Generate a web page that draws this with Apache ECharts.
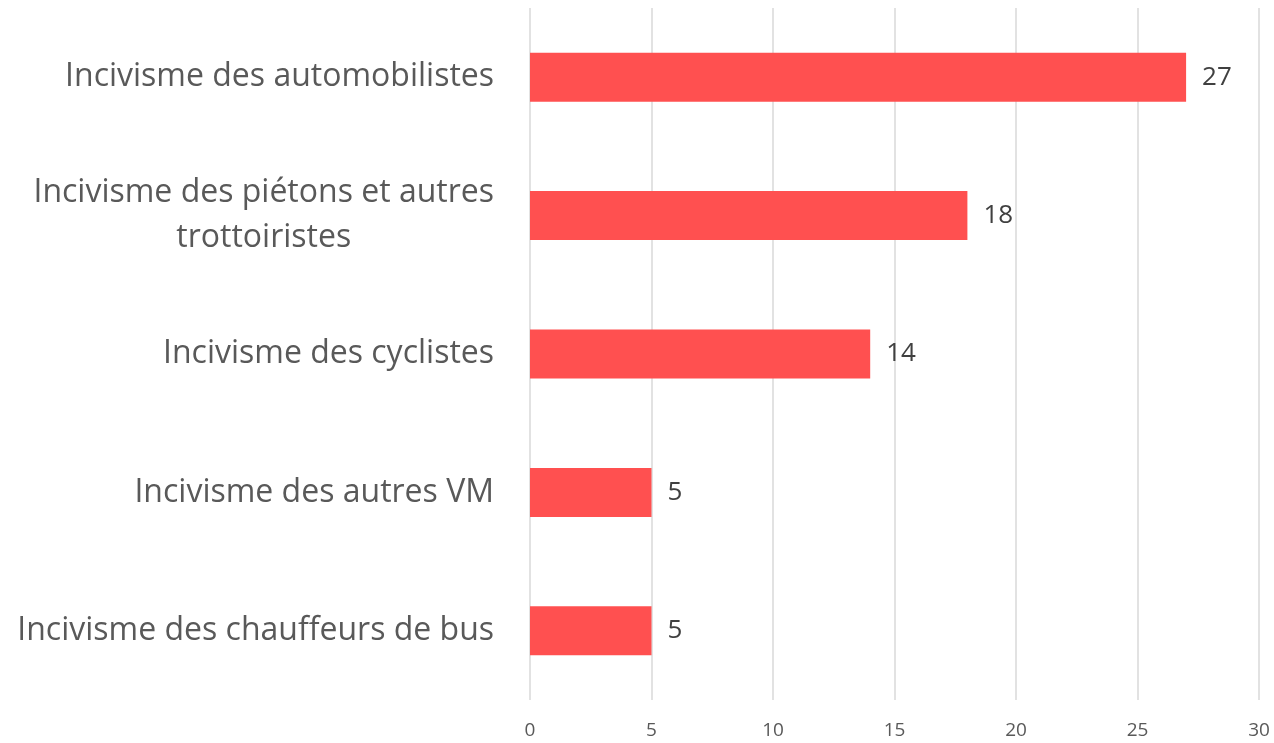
<!DOCTYPE html>
<html>
<head>
<meta charset="utf-8">
<script src="https://cdn.jsdelivr.net/npm/echarts@6/dist/echarts.min.js"></script>
<style>
html, body { margin: 0; padding: 0; background: #fff; }
#main { width: 1274px; height: 743px; }
</style>
</head>
<body>
<div id="main"></div>
<script>
// catégories (de haut en bas)
const categories = [
        "Incivisme des automobilistes",
        "Incivisme des piétons et autres\ntrottoiristes",
        "Incivisme des cyclistes",
        "Incivisme des autres VM",
        "Incivisme des chauffeurs de bus"
];
const values = [27, 18, 14, 5, 5];
const xTicks = [0, 5, 10, 15, 20, 25, 30];

const chart = echarts.init(document.getElementById('main'));

let option = {
        animation: false,
        grid: {
                top: 8,
                bottom: 43,
                left: 530,
                right: 15
        },
        xAxis: {
                type: 'value',
                min: xTicks[0],
                max: xTicks[xTicks.length - 1],
                interval: 5,
                axisLine: { show: false },
                axisTick: { show: false },
                splitLine: {
                        show: true,
                        lineStyle: { color: '#d9d9d9', width: 1.5 }
                },
                axisLabel: {
                        margin: 21,
                        color: '#595959',
                        fontSize: 19,
                        fontFamily: 'Open Sans'
                }
        },
        yAxis: {
                type: 'category',
                inverse: true,
                data: categories,
                axisLine: { show: false },
                axisTick: { show: false },
                axisLabel: {
                        margin: 36,
                        formatter: function (v) {
                                return v.split('\n').map(function (s) { return '{c|' + s + '}'; }).join('\n');
                        },
                        rich: {
                                c: {
                                        align: 'center',
                                        color: '#595959',
                                        fontSize: 32,
                                        lineHeight: 45,
                                        fontFamily: 'Open Sans'
                                }
                        }
                }
        },
        series: [{
                type: 'bar',
                data: values,
                barWidth: 49,
                itemStyle: { color: '#ff5050' },
                label: {
                        show: true,
                        position: 'right',
                        distance: 16,
                        color: '#404040',
                        fontSize: 26,
                        fontFamily: 'Open Sans'
                }
        }]
};

chart.setOption(option);
</script>
</body>
</html>
